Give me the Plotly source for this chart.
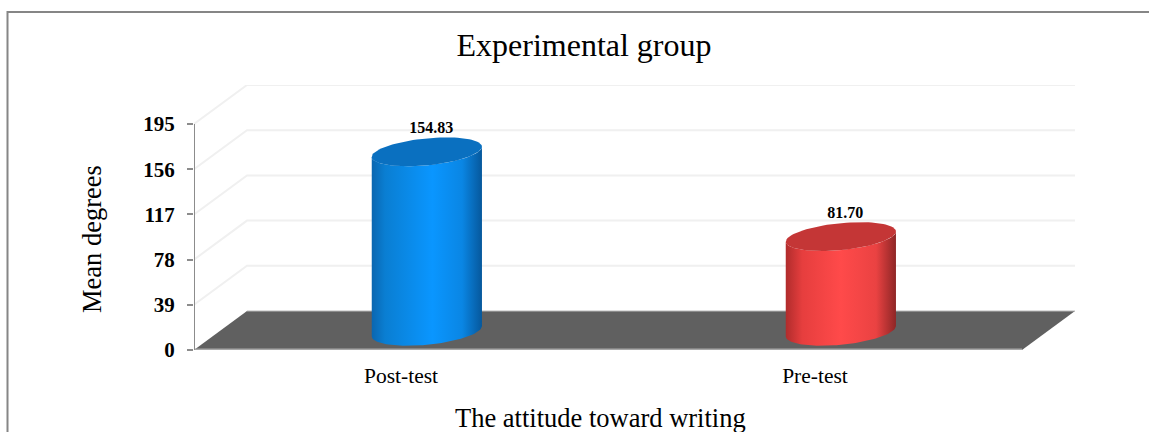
import numpy as np
import plotly.graph_objects as go

# --- data ---
categories = ["Post-test", "Pre-test"]
values = [154.83, 81.70]
value_labels = ["154.83", "81.70"]
y_ticks = [0, 39, 78, 117, 156, 195]

# --- styling ---
W, H = 1149, 432
SERIF = "Liberation Serif, Times New Roman, serif"
side_scales = [
    [[0, "#0a66b0"], [0.12, "#0a7ed2"], [0.55, "#0a96ff"], [0.82, "#0a86e4"], [1, "#06589c"]],
    [[0, "#b02c2c"], [0.15, "#e63e3e"], [0.5, "#ff4a4a"], [0.82, "#ea4242"], [1, "#8e2626"]],
]
top_colors = ["#0a70c0", "#c43636"]
WALL = "#f0f0f0"; FLOOR = "#606060"; EDGE = "#a8a8a8"; AXIS = "#8c8c8c"; BORDER = "#868686"

# plot-area geometry (pixels)
X0, X_CAT_END, X_BACK_END = 194, 1022, 1075
Y0, Y195, Y_TOP = 350, 124, 85
x_per_cat = (X_CAT_END - X0) / len(categories)
y_px = (Y0 - Y195) / 195
DX = 53 / x_per_cat        # depth vector in axis units
DY = 39 / y_px
x_max = (X_BACK_END - X0) / x_per_cat
y_max = (Y0 - Y_TOP) / y_px

A = 51.5 / x_per_cat       # cylinder half width
KD = 0.37                  # cylinder depth half-extent
K0 = 0.48                  # cylinder position in depth
T_OFF = np.arctan2(KD * DX * x_per_cat, A * x_per_cat)


def ell(xc, yc, t):
    return (xc + A * np.cos(t) + KD * DX * np.sin(t), yc + KD * DY * np.sin(t))


fig = go.Figure()


def line(xs, ys, color, width):
    fig.add_trace(go.Scatter(x=xs, y=ys, mode="lines", line=dict(color=color, width=width),
                             hoverinfo="skip", cliponaxis=False))


# back wall + side wall gridlines
for v in y_ticks[1:]:
    line([0, DX, x_max], [v, v + DY, v + DY], WALL, 2)

# floor
fig.add_trace(go.Scatter(x=[0, DX, x_max, x_max - DX, 0], y=[0, DY, DY, 0, 0], mode="lines",
                         fill="toself", fillcolor=FLOOR, line=dict(color=FLOOR, width=0),
                         hoverinfo="skip", cliponaxis=False))
line([0, x_max - DX], [0, 0], EDGE, 3)
line([DX, x_max], [DY, DY], "#b8b8b8", 1)
line([0, 0], [0, 195], AXIS, 2)

# cylinders
tx, ty, tt = [], [], []
for i, v in enumerate(values):
    xc = i + 0.5 + K0 * DX + 0.001
    yb = K0 * DY
    yt = yb + v
    arc = np.linspace(np.pi + T_OFF, 2 * np.pi + T_OFF, 60)
    bx, by = ell(xc, yb, arc)
    ux, uy = ell(xc, yt, arc[::-1])
    fig.add_trace(go.Scatter(
        x=np.r_[bx, ux], y=np.r_[by, uy], mode="lines", fill="toself",
        line=dict(width=0, color=top_colors[i]),
        fillgradient=dict(type="horizontal", colorscale=side_scales[i]),
        hoverinfo="skip", cliponaxis=False))
    full = np.linspace(0, 2 * np.pi, 90)
    cx, cy = ell(xc, yt, full)
    fig.add_trace(go.Scatter(x=cx, y=cy, mode="lines", fill="toself", fillcolor=top_colors[i],
                             line=dict(width=0, color=top_colors[i]), hoverinfo="skip", cliponaxis=False))
    tx.append(xc + 4.5 / x_per_cat)
    ty.append(yt + KD * DY)
    tt.append(value_labels[i])

fig.add_trace(go.Scatter(x=tx, y=ty, mode="text", text=tt, textposition="top center",
                         textfont=dict(family=SERIF, size=16, color="black", weight="bold"),
                         hoverinfo="skip", cliponaxis=False))

fig.update_layout(
    width=W, height=H, autosize=False, margin=dict(l=0, r=0, t=0, b=0, autoexpand=False),
    paper_bgcolor="white", plot_bgcolor="white",
    showlegend=False, hovermode=False,
    title=dict(text="Experimental group", font=dict(family=SERIF, size=32, color="black"),
               x=584 / W, xanchor="center", y=1 - 45 / H, yanchor="middle", automargin=False),
    xaxis=dict(domain=[X0 / W, X_BACK_END / W], range=[0, x_max],
               tickvals=[0.5, 1.5], ticktext=categories, ticks="", showgrid=False, zeroline=False,
               showline=False, ticklabelstandoff=10,
               tickfont=dict(family=SERIF, size=21.5, color="black")),
    yaxis=dict(domain=[1 - Y0 / H, 1 - Y_TOP / H], range=[0, y_max],
               tickvals=y_ticks, ticks="outside", ticklen=6, tickwidth=2, tickcolor=AXIS,
               showgrid=False, zeroline=False, showline=False, ticklabelstandoff=8,
               tickfont=dict(family=SERIF, size=21, color="black", weight="bold")),
    annotations=[
        dict(text="The attitude toward writing", xref="paper", yref="paper", x=600 / W, y=1 - 418 / H,
             xanchor="center", yanchor="middle", showarrow=False,
             font=dict(family=SERIF, size=26.5, color="black")),
        dict(text="Mean degrees", xref="paper", yref="paper", x=92 / W, y=1 - 239 / H,
             xanchor="center", yanchor="middle", showarrow=False, textangle=-90,
             font=dict(family=SERIF, size=26.5, color="black")),
    ],
    shapes=[dict(type="path", xref="paper", yref="paper",
                 path=f"M {7.5 / W} 0 L {7.5 / W} {1 - 12 / H} L 1 {1 - 12 / H}",
                 line=dict(color=BORDER, width=2))],
)

fig.write_html("out.html", config=dict(displayModeBar=False),
               default_width=f"{W}px", default_height=f"{H}px",
               post_script="document.body.style.margin='0';document.documentElement.style.overflow='hidden';")
